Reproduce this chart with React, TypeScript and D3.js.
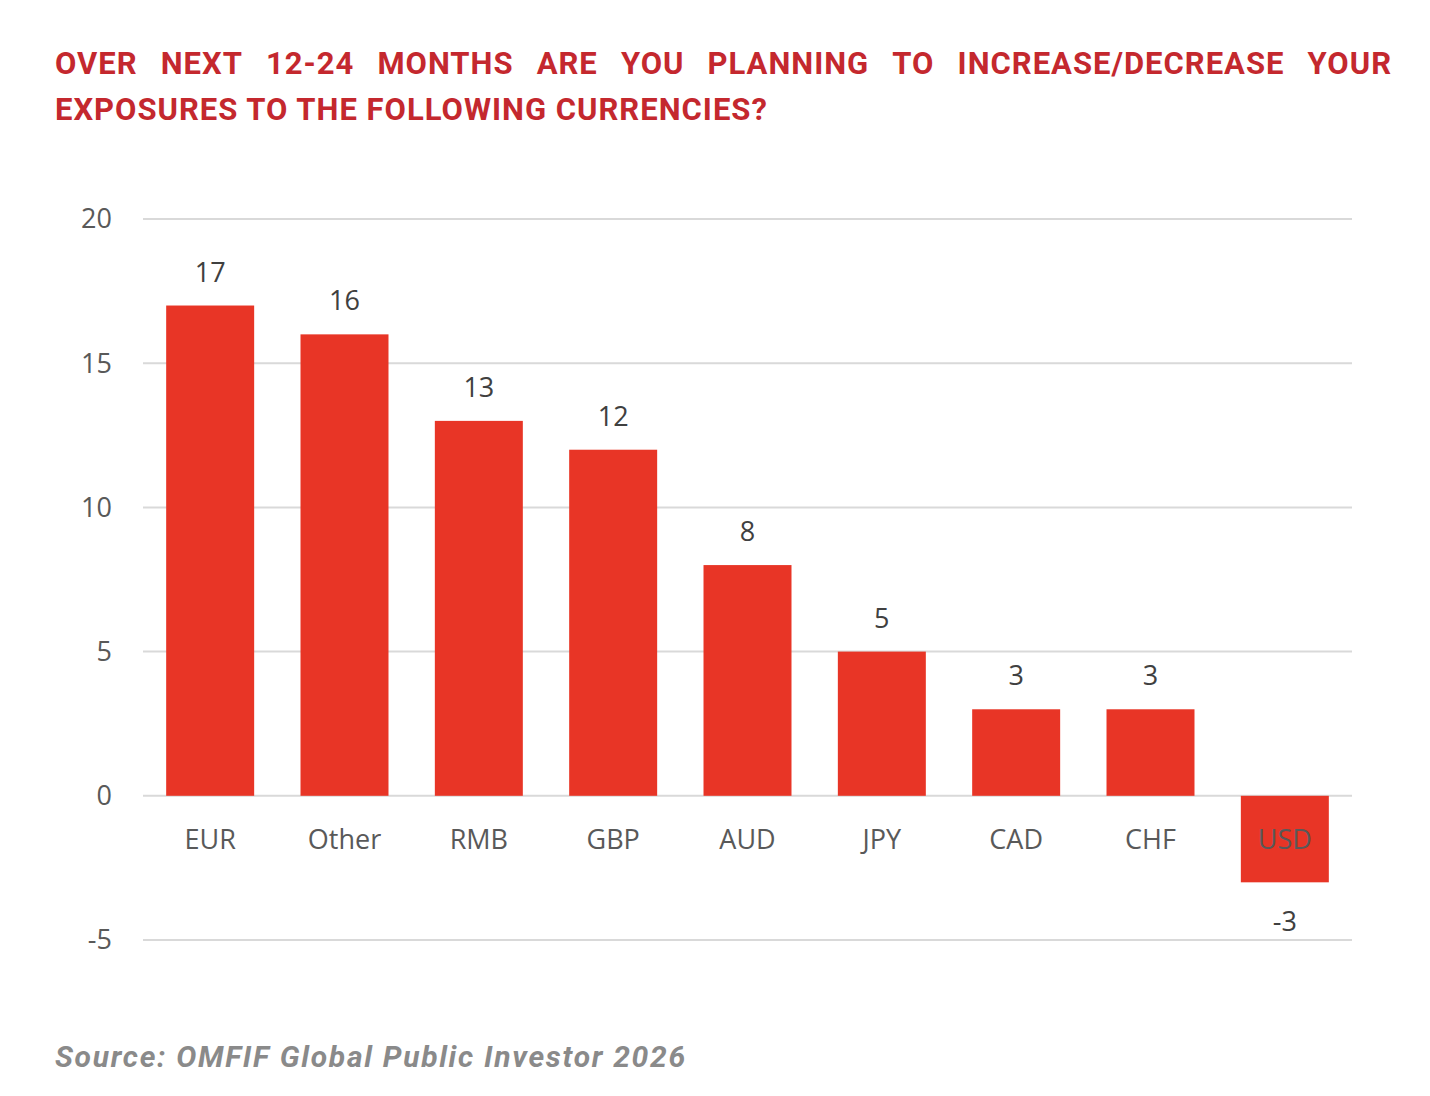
import React, { useEffect, useRef } from 'react';
import * as d3 from 'd3';

const currencies = ['EUR', 'Other', 'RMB', 'GBP', 'AUD', 'JPY', 'CAD', 'CHF', 'USD'];
const netBalance = [17, 16, 13, 12, 8, 5, 3, 3, -3];
const yTicks = [-5, 0, 5, 10, 15, 20];
const titleLines = [
  'OVER NEXT 12-24 MONTHS ARE YOU PLANNING TO INCREASE/DECREASE YOUR',
  'EXPOSURES TO THE FOLLOWING CURRENCIES?',
];
const sourceText = 'Source: OMFIF Global Public Investor 2026';

const App = () => {
  const svgRef = useRef<SVGSVGElement>(null);

  useEffect(() => {
    const svg = d3.select(svgRef.current);
    svg.selectAll('*').remove();

    const W = 1430;
    const H = 1096;
    const margin = { left: 143, right: 78, top: 219, bottom: 156 };
    const width = W - margin.left - margin.right;
    const height = H - margin.top - margin.bottom;

    svg.attr('width', W).attr('height', H);

    // title, first line justified like the original
    const titleLeft = 55;
    const titleRight = 1392;
    const title = svg.append('g')
      .attr('font-family', 'Roboto, sans-serif')
      .attr('font-weight', 700)
      .attr('font-size', 31)
      .attr('letter-spacing', 1)
      .attr('fill', '#c4282e');

    titleLines.forEach((line, i) => {
      const y = 74 + i * 46;
      if (i === 0) {
        const words = line.split(' ');
        const nodes = words.map(w => title.append('text').attr('y', y).text(w));
        const widths = nodes.map(n => (n.node() as SVGTextElement).getComputedTextLength());
        const gap = (titleRight - titleLeft - d3.sum(widths)) / (words.length - 1);
        let x = titleLeft;
        nodes.forEach((n, k) => {
          n.attr('x', x);
          x += widths[k] + gap;
        });
      } else {
        title.append('text').attr('x', titleLeft).attr('y', y).text(line);
      }
    });

    const g = svg.append('g')
      .attr('transform', `translate(${margin.left},${margin.top})`);

    const x = d3.scaleBand()
      .domain(currencies)
      .range([0, width])
      .paddingInner(0.345)
      .paddingOuter(0.1725);

    const y = d3.scaleLinear()
      .domain([-5, 20])
      .range([height, 0]);

    // gridlines
    g.append('g')
      .selectAll('line')
      .data(yTicks)
      .enter().append('line')
      .attr('x1', 0)
      .attr('x2', width)
      .attr('y1', d => y(d))
      .attr('y2', d => y(d))
      .attr('stroke', '#d9d9d9')
      .attr('stroke-width', 2);

    const font = "'Open Sans', sans-serif";

    // y axis labels
    g.append('g')
      .selectAll('text')
      .data(yTicks)
      .enter().append('text')
      .attr('x', -31)
      .attr('y', d => y(d))
      .attr('dy', '0.35em')
      .attr('text-anchor', 'end')
      .attr('font-family', font)
      .attr('font-size', 27)
      .attr('fill', '#595959')
      .text(d => d);

    // bars
    g.append('g')
      .selectAll('rect')
      .data(currencies)
      .enter().append('rect')
      .attr('x', d => x(d)!)
      .attr('width', x.bandwidth())
      .attr('y', (d, i) => y(Math.max(0, netBalance[i])))
      .attr('height', (d, i) => Math.abs(y(netBalance[i]) - y(0)))
      .attr('fill', '#e83526');

    // category labels
    g.append('g')
      .selectAll('text')
      .data(currencies)
      .enter().append('text')
      .attr('x', d => x(d)! + x.bandwidth() / 2)
      .attr('y', y(0) + 53)
      .attr('text-anchor', 'middle')
      .attr('font-family', font)
      .attr('font-size', 27)
      .attr('fill', '#595959')
      .text(d => d);

    // value labels
    g.append('g')
      .selectAll('text')
      .data(currencies)
      .enter().append('text')
      .attr('x', d => x(d)! + x.bandwidth() / 2)
      .attr('y', (d, i) => netBalance[i] >= 0 ? y(netBalance[i]) - 24 : y(netBalance[i]) + 49)
      .attr('text-anchor', 'middle')
      .attr('font-family', font)
      .attr('font-size', 27)
      .attr('fill', '#404040')
      .text((d, i) => netBalance[i]);

    svg.append('text')
      .attr('x', 55)
      .attr('y', 1067)
      .attr('font-family', 'Roboto, sans-serif')
      .attr('font-weight', 700)
      .attr('font-style', 'italic')
      .attr('font-size', 30)
      .attr('letter-spacing', 1.7)
      .attr('fill', '#8a8a8a')
      .text(sourceText);
  }, []);

  return (
    <svg
      ref={svgRef}
      style={{ position: 'absolute', left: 0, top: 0, display: 'block', background: '#fff' }}
    />
  );
};

export default App;
